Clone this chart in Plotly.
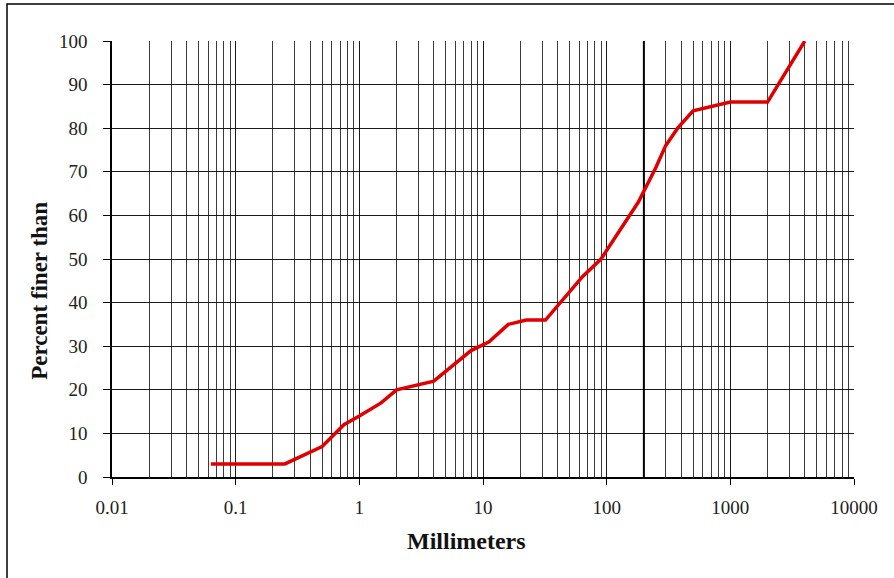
import plotly.graph_objects as go

sizes_mm = [0.063, 0.25, 0.5, 0.75, 1, 1.5, 2, 4, 8, 11.2, 16, 22.4, 32, 64, 90,
            125, 180, 250, 300, 375, 500, 1000, 2000, 2500, 4000]
pct_finer = [3, 3, 7, 12, 14, 17, 20, 22, 29, 31, 35, 36, 36, 46, 50,
             56, 63, 71, 76, 80, 84, 86, 86, 90.5, 100]

x_ticks = [0.01, 0.1, 1, 10, 100, 1000, 10000]
x_tick_labels = ["0.01", "0.1", "1", "10", "100", "1000", "10000"]
y_ticks = [0, 10, 20, 30, 40, 50, 60, 70, 80, 90, 100]
marker_line_x = [200, 200]
marker_line_y = [0, 100]

SERIF = "Liberation Serif"

fig = go.Figure()
fig.add_trace(go.Scatter(x=marker_line_x, y=marker_line_y, mode="lines",
                         line=dict(color="black", width=2), hoverinfo="skip",
                         showlegend=False))
fig.add_trace(go.Scatter(x=sizes_mm, y=pct_finer, mode="lines",
                         line=dict(color="#E00000", width=3.5),
                         showlegend=False))

fig.update_layout(
    width=894, height=578,
    margin=dict(l=112, r=40, t=41, b=101),
    paper_bgcolor="white", plot_bgcolor="white",
    font=dict(family=SERIF, size=19, color="#222"),
    showlegend=False,
    xaxis=dict(type="log", range=[-2, 4], tickvals=x_ticks, ticktext=x_tick_labels,
               showgrid=True, gridcolor="#1a1a1a", gridwidth=1,
               minor=dict(dtick="D1", showgrid=True, gridcolor="#3a3a3a", gridwidth=1, ticks=""),
               ticks="outside", ticklen=6, tickcolor="black",
               showline=True, linecolor="black", linewidth=1.5,
               zeroline=False, ticklabelstandoff=6,
               tickfont=dict(family=SERIF, size=19, color="#222")),
    yaxis=dict(range=[0, 100], tickvals=y_ticks,
               showgrid=True, gridcolor="#1a1a1a", gridwidth=1,
               ticks="outside", ticklen=7, tickcolor="black",
               showline=True, linecolor="black", linewidth=1.5,
               zeroline=False, ticklabelstandoff=12,
               tickfont=dict(family=SERIF, size=19, color="#222")),
    annotations=[
        dict(text="<b>Millimeters</b>", xref="paper", yref="paper", x=0.478, y=-0.147,
             showarrow=False, font=dict(family=SERIF, size=24, color="#111"),
             xanchor="center", yanchor="middle"),
        dict(text="<b>Percent finer than</b>", xref="paper", yref="paper", x=-0.097, y=0.427,
             showarrow=False, textangle=-90, font=dict(family=SERIF, size=23, color="#111"),
             xanchor="center", yanchor="middle"),
    ],
    shapes=[dict(type="rect", xref="paper", yref="paper", x0=-0.1415, x1=1.1,
                 y0=-0.3, y1=1.0849, line=dict(color="black", width=1.5),
                 fillcolor="rgba(0,0,0,0)", layer="below")],
)

fig.write_html("out.html", config={"displayModeBar": False},
               post_script="document.body.style.margin='0';")
